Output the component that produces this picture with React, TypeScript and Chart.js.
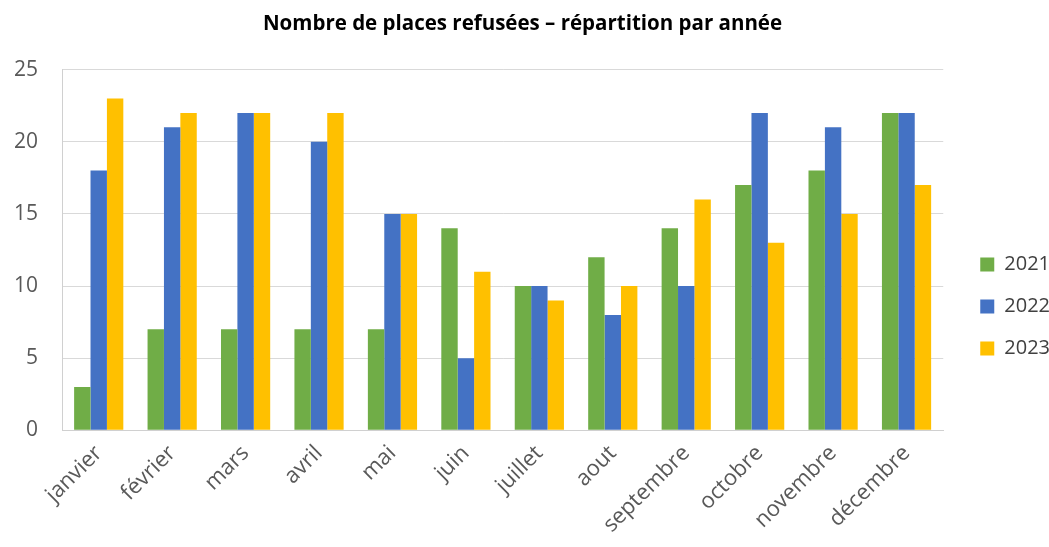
import React, { useEffect, useRef } from "react";
import { Chart, registerables } from "chart.js";

Chart.register(...registerables);

const months = ["janvier", "février", "mars", "avril", "mai", "juin", "juillet", "aout", "septembre", "octobre", "novembre", "décembre"];
const values2021 = [3, 7, 7, 7, 7, 14, 10, 12, 14, 17, 18, 22];
const values2022 = [18, 21, 22, 20, 15, 5, 10, 8, 10, 22, 21, 22];
const values2023 = [23, 22, 22, 22, 15, 11, 9, 10, 16, 13, 15, 17];
const yTicks = [0, 5, 10, 15, 20, 25];
const title = "Nombre de places refusées – répartition par année";

const legendShift = {
  id: "legendShift",
  afterLayout(chart: any) {
    const lg = chart.legend;
    if (lg) {
      lg.left += 15;
      lg.right += 15;
    }
  },
};

export default function App() {
  const ref = useRef<HTMLCanvasElement | null>(null);
  useEffect(() => {
    if (!ref.current) return;
    const chart = new Chart(ref.current, {
      type: "bar",
      data: {
        labels: months,
        datasets: [
          { label: "2021", data: values2021, backgroundColor: "#70AD47", categoryPercentage: 0.67, barPercentage: 1 },
          { label: "2022", data: values2022, backgroundColor: "#4472C4", categoryPercentage: 0.67, barPercentage: 1 },
          { label: "2023", data: values2023, backgroundColor: "#FFC000", categoryPercentage: 0.67, barPercentage: 1 },
        ],
      },
      plugins: [legendShift],
      options: {
        responsive: false,
        animation: false,
        layout: { padding: { left: 0, right: 4, top: 0, bottom: 7 } },
        plugins: {
          title: {
            display: true,
            text: title,
            color: "#000",
            font: { family: "'Open Sans', sans-serif", size: 20.5, weight: "bold" },
            padding: { top: 12, bottom: 33 },
          },
          legend: {
            position: "right",
            title: {
              display: true,
              text: " ",
              font: { size: 1 },
              padding: { top: 36, bottom: 36 },
            },
            labels: {
              boxWidth: 14,
              boxHeight: 14,
              padding: 22,
              color: "#404040",
              font: { family: "'Open Sans', sans-serif", size: 20 },
            },
          },
          tooltip: { enabled: false },
        },
        scales: {
          x: {
            grid: { display: false },
            border: { color: "#d0d0d0" },
            ticks: {
              color: "#595959",
              font: { family: "'Open Sans', sans-serif", size: 22 },
              minRotation: 45,
              maxRotation: 45,
              padding: 2,
            },
          },
          y: {
            min: 0,
            max: 25,
            afterBuildTicks: (axis: any) => {
              axis.ticks = yTicks.map((v) => ({ value: v }));
            },
            afterFit: (axis: any) => {
              axis.width = 62;
            },
            grid: { color: "#d9d9d9", drawTicks: false },
            border: { color: "#d0d0d0" },
            ticks: {
              color: "#595959",
              font: { family: "'Open Sans', sans-serif", size: 21 },
              padding: 24,
            },
          },
        },
      },
    });
    return () => chart.destroy();
  }, []);
  return (
    <div style={{ position: "absolute", left: 0, top: 0, width: 1049, height: 547, background: "#fff" }}>
      <canvas ref={ref} width={1049} height={547} />
    </div>
  );
}
